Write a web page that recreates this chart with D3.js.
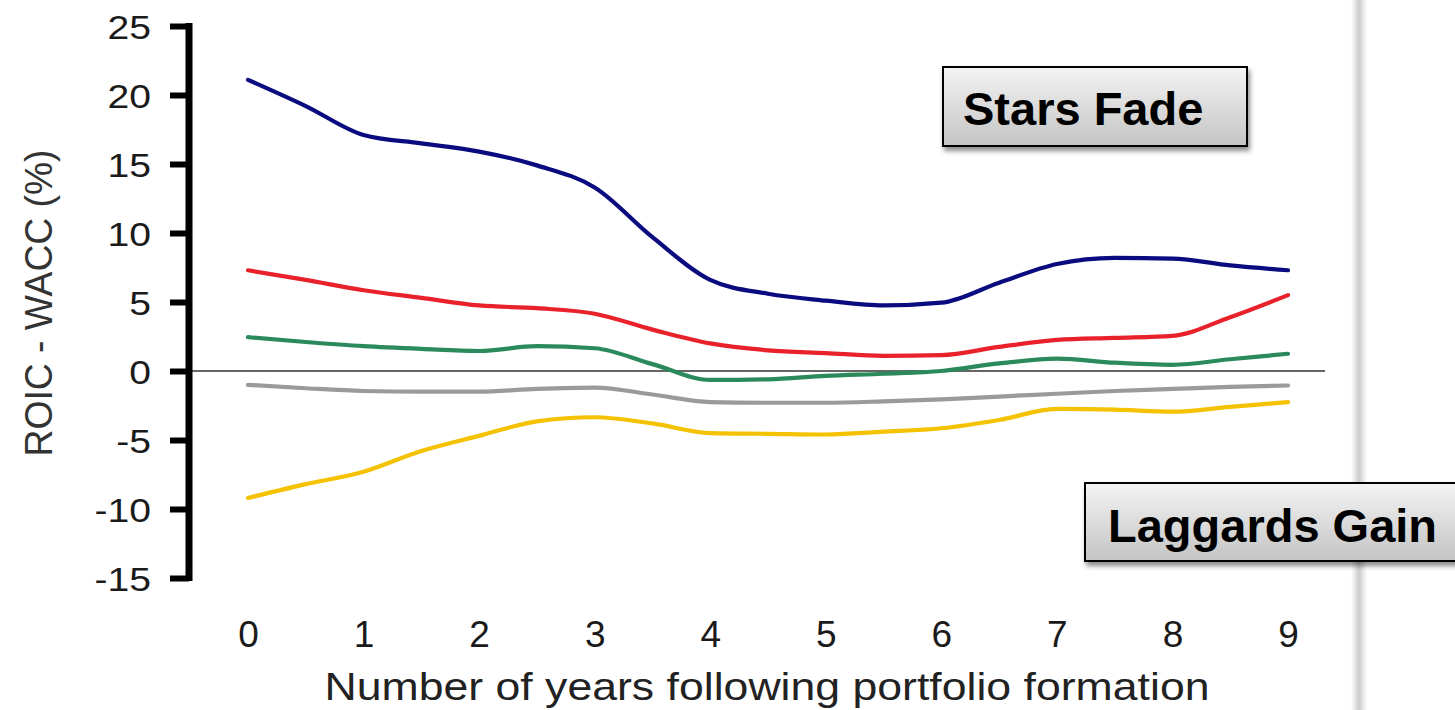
<!DOCTYPE html>
<html>
<head>
<meta charset="utf-8">
<script src="https://cdn.jsdelivr.net/npm/d3@7/dist/d3.min.js"></script>
<style>
  html, body { margin: 0; padding: 0; background: #ffffff; }
  svg { display: block; }
</style>
</head>
<body>
<svg id="chart" width="1455" height="710"></svg>
<script>
// ---- data ----
const years = [0, 0.5, 1, 1.5, 2, 2.5, 3, 3.5, 4, 4.5, 5, 5.5, 6, 6.5, 7, 7.5, 8, 8.5, 9];
const stars   = [21.1, 19.2, 17.1, 16.5, 15.9, 14.9, 13.3, 9.7, 6.6, 5.6, 5.1, 4.75, 4.95, 6.4, 7.75, 8.2, 8.15, 7.65, 7.3];
const second  = [7.3, 6.6, 5.85, 5.3, 4.75, 4.55, 4.15, 3.0, 2.0, 1.5, 1.3, 1.1, 1.15, 1.75, 2.25, 2.4, 2.55, 3.9, 5.5];
const middle  = [2.45, 2.1, 1.8, 1.6, 1.45, 1.8, 1.65, 0.5, -0.65, -0.6, -0.35, -0.2, 0.0, 0.55, 0.9, 0.6, 0.45, 0.85, 1.25];
const fourth  = [-1.0, -1.25, -1.45, -1.5, -1.5, -1.3, -1.2, -1.7, -2.25, -2.3, -2.3, -2.2, -2.05, -1.85, -1.65, -1.45, -1.3, -1.15, -1.05];
const laggards = [-9.2, -8.2, -7.3, -5.8, -4.7, -3.65, -3.35, -3.8, -4.5, -4.55, -4.6, -4.4, -4.15, -3.55, -2.75, -2.8, -2.95, -2.6, -2.25];
const seriesNames = ["Stars", "Second", "Middle", "Fourth", "Laggards"];
const seriesColors = ["#0b0b80", "#e8212b", "#2b8a5c", "#9a9a9a", "#f4c200"];
const xTicks = [0, 1, 2, 3, 4, 5, 6, 7, 8, 9];
const yTicks = [-15, -10, -5, 0, 5, 10, 15, 20, 25];
const yTitle = "ROIC - WACC (%)";
const xTitle = "Number of years following portfolio formation";
const boxLabels = ["Stars Fade", "Laggards Gain"];

const allSeries = [stars, second, middle, fourth, laggards];

const svg = d3.select("#chart");
const FONT = "'Liberation Sans', Arial, sans-serif";

// defs
const defs = svg.append("defs");
const gBox = defs.append("linearGradient").attr("id", "boxGrad").attr("x1", 0).attr("y1", 0).attr("x2", 0).attr("y2", 1);
gBox.append("stop").attr("offset", "0%").attr("stop-color", "#f4f4f4");
gBox.append("stop").attr("offset", "100%").attr("stop-color", "#c4c4c4");
const gBar = defs.append("linearGradient").attr("id", "barGrad").attr("x1", 0).attr("y1", 0).attr("x2", 1).attr("y2", 0);
gBar.append("stop").attr("offset", "0%").attr("stop-color", "#ffffff");
gBar.append("stop").attr("offset", "50%").attr("stop-color", "#cbcbcb");
gBar.append("stop").attr("offset", "100%").attr("stop-color", "#ffffff");
const shadow = defs.append("filter").attr("id", "shadow").attr("x", "-10%").attr("y", "-10%").attr("width", "130%").attr("height", "140%");
shadow.append("feDropShadow").attr("dx", 2).attr("dy", 4).attr("stdDeviation", 2.5).attr("flood-color", "#000").attr("flood-opacity", 0.45);

// right-side grey divider
svg.append("rect").attr("x", 1351).attr("y", 0).attr("width", 16).attr("height", 710).attr("fill", "url(#barGrad)");

// scales
const x = d3.scaleLinear().domain([0, 9]).range([248, 1288]);
const y = d3.scaleLinear().domain([-15, 25]).range([578, 26]);
const axisX = 189;

// zero line
svg.append("line")
  .attr("x1", axisX).attr("x2", 1325)
  .attr("y1", y(0)).attr("y2", y(0))
  .attr("stroke", "#333").attr("stroke-width", 1.6);

// series lines
const line = d3.line().x((d, i) => x(years[i])).y(d => y(d)).curve(d3.curveMonotoneX);
svg.append("g").selectAll("path")
  .data(allSeries)
  .join("path")
  .attr("d", d => line(d))
  .attr("fill", "none")
  .attr("stroke", (d, i) => seriesColors[i])
  .attr("stroke-width", 4.2)
  .attr("stroke-linejoin", "round")
  .attr("stroke-linecap", "round");

// y axis
const yAxis = svg.append("g")
  .attr("transform", `translate(${axisX},0)`)
  .call(d3.axisLeft(y).tickValues(yTicks).tickSize(19).tickSizeOuter(0).tickPadding(19)
    .tickFormat(d => String(d)));
yAxis.select(".domain").attr("stroke", "#000").attr("stroke-width", 7)
  .attr("d", `M0,${y(25) - 3}V${y(-15) + 3}`);
yAxis.selectAll(".tick line").attr("stroke", "#000").attr("stroke-width", 6);
yAxis.selectAll(".tick text")
  .attr("font-family", FONT).attr("font-size", 34).attr("fill", "#1a1a1a")
  .attr("transform", "scale(1.15,1)")
  .attr("dy", "0.36em")
  .attr("x", -38 / 1.15);

// x axis labels
const xAxis = svg.append("g")
  .attr("transform", "translate(0,620)")
  .call(d3.axisBottom(x).tickValues(xTicks).tickSize(0).tickPadding(1).tickFormat(d => String(d)));
xAxis.select(".domain").remove();
xAxis.selectAll(".tick text")
  .attr("font-family", FONT).attr("font-size", 37).attr("fill", "#1a1a1a");

// axis titles
svg.append("text")
  .attr("transform", "translate(52,303) rotate(-90)")
  .attr("text-anchor", "middle")
  .attr("font-family", FONT).attr("font-size", 39).attr("fill", "#333")
  .attr("textLength", 307).attr("lengthAdjust", "spacingAndGlyphs")
  .text(yTitle);
svg.append("text")
  .attr("x", 767).attr("y", 700)
  .attr("text-anchor", "middle")
  .attr("font-family", FONT).attr("font-size", 39).attr("fill", "#222")
  .attr("textLength", 885).attr("lengthAdjust", "spacingAndGlyphs")
  .text(xTitle);

// annotation boxes
const boxes = [
  { x: 943, y: 67, w: 304, h: 79, tx: 963, ty: 125, label: boxLabels[0] },
  { x: 1085, y: 483, w: 400, h: 78, tx: 1108, ty: 542, label: boxLabels[1] }
];
const bg = svg.append("g").selectAll("g").data(boxes).join("g");
bg.append("rect")
  .attr("x", d => d.x).attr("y", d => d.y).attr("width", d => d.w).attr("height", d => d.h)
  .attr("fill", "url(#boxGrad)").attr("stroke", "#000").attr("stroke-width", 2)
  .attr("filter", "url(#shadow)");
bg.append("text")
  .attr("x", d => d.tx).attr("y", d => d.ty)
  .attr("font-family", FONT).attr("font-weight", "bold").attr("font-size", 47).attr("fill", "#000")
  .text(d => d.label);
</script>
</body>
</html>
